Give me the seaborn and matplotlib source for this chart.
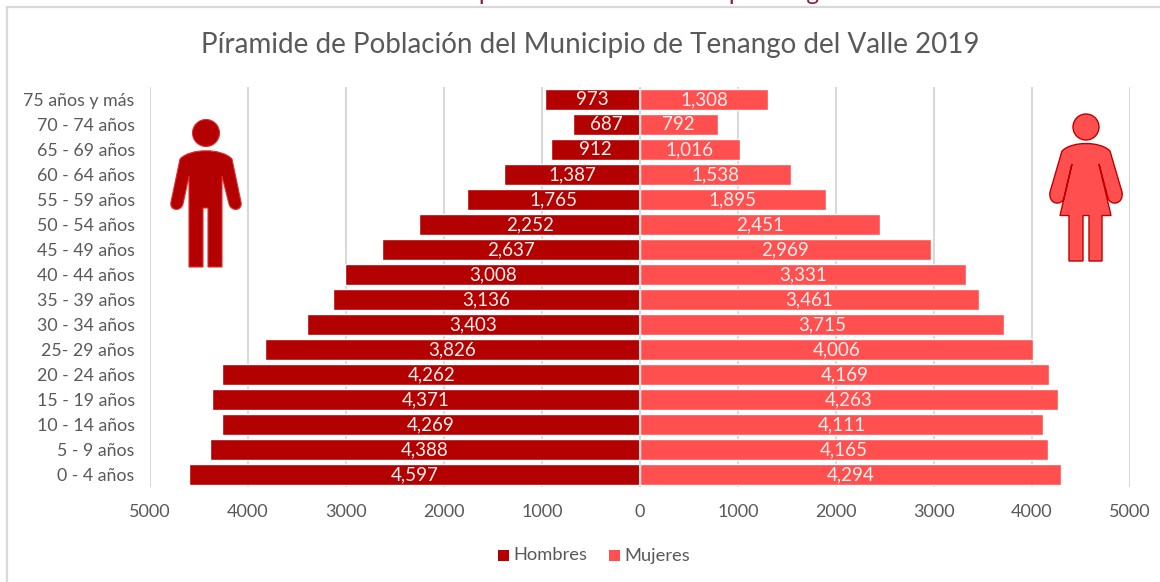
"""Population pyramid of Tenango del Valle 2019, drawn with seaborn."""

import matplotlib.pyplot as plt
import pandas as pd
import seaborn as sns
from matplotlib.patches import Circle, PathPatch, Rectangle
from matplotlib.path import Path

# Chart data, top of the pyramid first
age_groups = [
    "75 años y más", "70 - 74 años", "65 - 69 años", "60 - 64 años",
    "55 - 59 años", "50 - 54 años", "45 - 49 años", "40 - 44 años",
    "35 - 39 años", "30 - 34 años", "25- 29 años", "20 - 24 años",
    "15 - 19 años", "10 - 14 años", "5 - 9 años", "0 - 4 años",
]
hombres = [973, 687, 912, 1387, 1765, 2252, 2637, 3008,
           3136, 3403, 3826, 4262, 4371, 4269, 4388, 4597]
mujeres = [1308, 792, 1016, 1538, 1895, 2451, 2969, 3331,
           3461, 3715, 4006, 4169, 4263, 4111, 4165, 4294]
x_ticks = [-5000, -4000, -3000, -2000, -1000, 0, 1000, 2000, 3000, 4000, 5000]

TITLE = "Píramide de Población del Municipio de Tenango del Valle 2019"
CAPTION = "Gráfica 1. Pirámide de población total del año por rango de edad."

DARK_RED = "#B30000"
LIGHT_RED = "#FF4F4F"
GREY_TEXT = "#595959"
GRID = "#D9D9D9"
W, H = 1160, 582


def icon_path(segments):
    """Build a path from point lists: one point is a line, three are a curve."""
    verts, codes = [segments[0][0]], [Path.MOVETO]
    for seg in segments[1:]:
        verts.extend(seg)
        codes.extend([Path.LINETO] if len(seg) == 1 else [Path.CURVE4] * 3)
    return Path(verts, codes)


def add_man(icon_ax):
    """Man pictogram, drawn in pixel coordinates on the overlay."""
    body = icon_path([
        [(180, 159)], [(190, 148), (222, 148), (232, 159)],
        [(241, 202)], [(243, 211), (231, 212), (229, 204)],
        [(222, 176)], [(222, 267)], [(208, 267)], [(208, 208)],
        [(203, 208)], [(203, 267)], [(189, 267)], [(189, 176)],
        [(183, 204)], [(181, 212), (169, 211), (171, 202)],
        [(180, 159)],
    ])
    icon_ax.add_patch(PathPatch(body, fc=DARK_RED, ec="#E03030", lw=0.8))
    icon_ax.add_patch(Circle((206, 133), 13.5, fc=DARK_RED, ec="#E03030", lw=0.8))


def add_woman(icon_ax):
    """Woman pictogram, drawn in pixel coordinates on the overlay."""
    body = icon_path([
        [(1062, 151)], [(1072, 141), (1100, 141), (1110, 151)],
        [(1122, 192)], [(1124, 205), (1110, 206), (1108, 198)],
        [(1099, 164)], [(1111, 215.5)], [(1102, 215.5)], [(1102, 261)],
        [(1089, 261)], [(1089, 215.5)], [(1083, 215.5)], [(1083, 261)],
        [(1069, 261)], [(1069, 215.5)], [(1060, 215.5)], [(1072, 164)],
        [(1064, 198)], [(1062, 206), (1048, 205), (1050, 192)],
        [(1062, 151)],
    ])
    icon_ax.add_patch(PathPatch(body, fc=LIGHT_RED, ec="#C00000", lw=1.0))
    icon_ax.add_patch(Circle((1086, 127), 13, fc=LIGHT_RED, ec="#C00000", lw=1.0))


def main():
    sns.set_theme(style="white")
    plt.rcParams["font.family"] = ["Lato", "DejaVu Sans"]

    df = pd.DataFrame({
        "Edad": age_groups * 2,
        "Poblacion": [-v for v in hombres] + mujeres,
        "Sexo": ["Hombres"] * len(age_groups) + ["Mujeres"] * len(age_groups),
    })

    fig = plt.figure(figsize=(W / 100, H / 100), dpi=100, facecolor="white")
    ax = fig.add_axes([150 / W, 1 - 487 / H, 980 / W, 400 / H])

    sns.barplot(
        data=df, y="Edad", x="Poblacion", hue="Sexo", order=age_groups,
        palette={"Hombres": DARK_RED, "Mujeres": LIGHT_RED},
        dodge=False, width=0.83, saturation=1, ax=ax, legend=False, zorder=3,
    )

    # Data labels in the middle of each bar
    for container, values in zip(ax.containers, [hombres, mujeres]):
        ax.bar_label(
            container, labels=[f"{v:,}" for v in values], label_type="center",
            color="#FFF0EE", fontsize=13.5, zorder=5,
        )

    ax.set_xlim(-5000, 5000)
    ax.set_ylim(len(age_groups) - 0.5, -0.5)
    ax.set_xticks(x_ticks)
    ax.set_xticklabels([str(abs(v)) for v in x_ticks])
    ax.set_xlabel("")
    ax.set_ylabel("")
    ax.tick_params(axis="x", length=0, pad=12, labelsize=13, labelcolor=GREY_TEXT)
    ax.tick_params(axis="y", length=0, pad=11, labelsize=12.8, labelcolor=GREY_TEXT)
    ax.xaxis.grid(True, color=GRID, lw=1.5)
    ax.set_axisbelow(True)
    ax.axvline(0, color=GRID, lw=1.5, zorder=4)
    sns.despine(ax=ax, left=True, bottom=True)

    # Overlay in pixel coordinates for the frame, icons and clipped caption
    over = fig.add_axes([0, 0, 1, 1], facecolor="none")
    over.set_xlim(0, W)
    over.set_ylim(H, 0)
    over.axis("off")
    over.plot([7, 7, W], [H, 7, 7], color=GRID, lw=1.6, solid_joinstyle="miter")
    add_man(over)
    add_woman(over)

    over.text(583, 0.5, CAPTION, ha="center", va="baseline",
              color="#8C1C3C", fontsize=17.6)
    over.text(590, 45, TITLE, ha="center", va="center",
              color=GREY_TEXT, fontsize=20)

    # Legend
    for x0, label, color in [(498, "Hombres", DARK_RED), (609, "Mujeres", LIGHT_RED)]:
        over.add_patch(Rectangle((x0, 550), 11, 11, fc=color, ec="none"))
        over.text(x0 + 15, 555.5, label, ha="left", va="center",
                  color=GREY_TEXT, fontsize=13.2)

    fig.savefig("out.png", dpi=100)


if __name__ == "__main__":
    main()
